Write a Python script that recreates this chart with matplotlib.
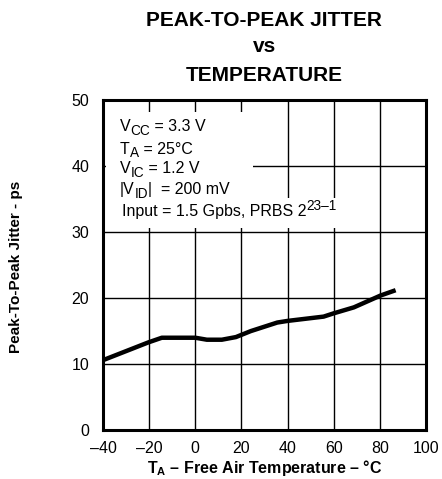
import matplotlib
matplotlib.use("Agg")
import matplotlib.pyplot as plt
from matplotlib.patches import Rectangle

plt.rcParams["font.family"] = ["Liberation Sans", "DejaVu Sans"]
plt.rcParams["mathtext.fontset"] = "custom"
plt.rcParams["mathtext.rm"] = "Liberation Sans"
plt.rcParams["mathtext.bf"] = "Liberation Sans:bold"

# jitter curve
temp_c = [-40, -20.3, -14.5, 0, 5, 11.5, 17.6, 24, 35.5, 40, 55.6, 60, 68.7, 80.3, 86.8]
jitter_ps = [10.6, 13.3, 14.0, 14.0, 13.7, 13.7, 14.1, 15.0, 16.3, 16.55, 17.2, 17.7, 18.6, 20.4, 21.2]

x_ticks = [-40, -20, 0, 20, 40, 60, 80, 100]
y_ticks = [0, 10, 20, 30, 40, 50]

# (text, shift) pieces: 0 = normal, -1 = subscript, +1 = superscript
conditions = [
    [("V", 0), ("CC", -1), (" = 3.3 V", 0)],
    [("T", 0), ("A", -1), (" = 25°C", 0)],
    [("V", 0), ("IC", -1), (" = 1.2 V", 0)],
    [("|V", 0), ("ID", -1), ("|  = 200 mV", 0)],
    [("Input = 1.5 Gpbs, PRBS 2", 0), ("23–1", 1)],
]
cond_x = [-32.7, -32.7, -32.7, -32.7, -31.6]
cond_y = [45.3, 41.9, 38.9, 35.7, 32.4]


def chain_text(ax, x, y, pieces, size=11.5):
    prev = None
    for txt, shift in pieces:
        fs = size if shift == 0 else size * 0.85
        dy = {0: 0, -1: -2.6, 1: 4.2}[shift]
        if prev is None:
            prev = ax.text(x, y, txt, fontsize=fs, va="baseline", ha="left", zorder=3)
        else:
            prev = ax.annotate(txt, xy=(1, y), xycoords=(prev, "data"),
                               xytext=(0, dy), textcoords="offset points",
                               fontsize=fs, va="baseline", ha="left", zorder=3)


fig = plt.figure(figsize=(4.42, 4.79), dpi=100)
ax = fig.add_axes([0.233, 0.102, 0.731, 0.689])

ax.set_xlim(-40, 100)
ax.set_ylim(0, 50)
ax.set_xticks(x_ticks)
ax.set_yticks(y_ticks)
ax.set_xticklabels([str(t).replace("-", "–") for t in x_ticks])
ax.tick_params(length=0, labelsize=11.5)
ax.tick_params(axis="x", pad=8)
ax.tick_params(axis="y", pad=10)
ax.grid(True, color="black", linewidth=1.0)
ax.set_axisbelow(True)
for s in ax.spines.values():
    s.set_linewidth(2.2)
    s.set_zorder(5)

# blank out the grid behind the condition text
ax.add_patch(Rectangle((-38.6, 30.6), 63.5, 17.6, facecolor="white", edgecolor="none", zorder=1))
ax.add_patch(Rectangle((-38.6, 30.6), 104.0, 4.6, facecolor="white", edgecolor="none", zorder=1))

ax.plot(temp_c, jitter_ps, color="black", linewidth=3.2, solid_capstyle="butt", zorder=4)

for xx, yy, pieces in zip(cond_x, cond_y, conditions):
    chain_text(ax, xx, yy, pieces)

fig.text(0.598, 0.957, "PEAK-TO-PEAK JITTER", fontsize=15, fontweight="bold", ha="center", va="center")
fig.text(0.598, 0.902, "vs", fontsize=15, fontweight="bold", ha="center", va="center")
fig.text(0.598, 0.843, "TEMPERATURE", fontsize=15, fontweight="bold", ha="center", va="center")

fig.text(0.598, 0.022, r"T$_{\mathbf{A}}$ – Free Air Temperature – °C", fontsize=11.5,
         fontweight="bold", ha="center", va="center")
fig.text(0.037, 0.443, "Peak-To-Peak Jitter - ps", fontsize=11, fontweight="bold",
         rotation=90, ha="center", va="center")

fig.savefig("out.png", dpi=100)
